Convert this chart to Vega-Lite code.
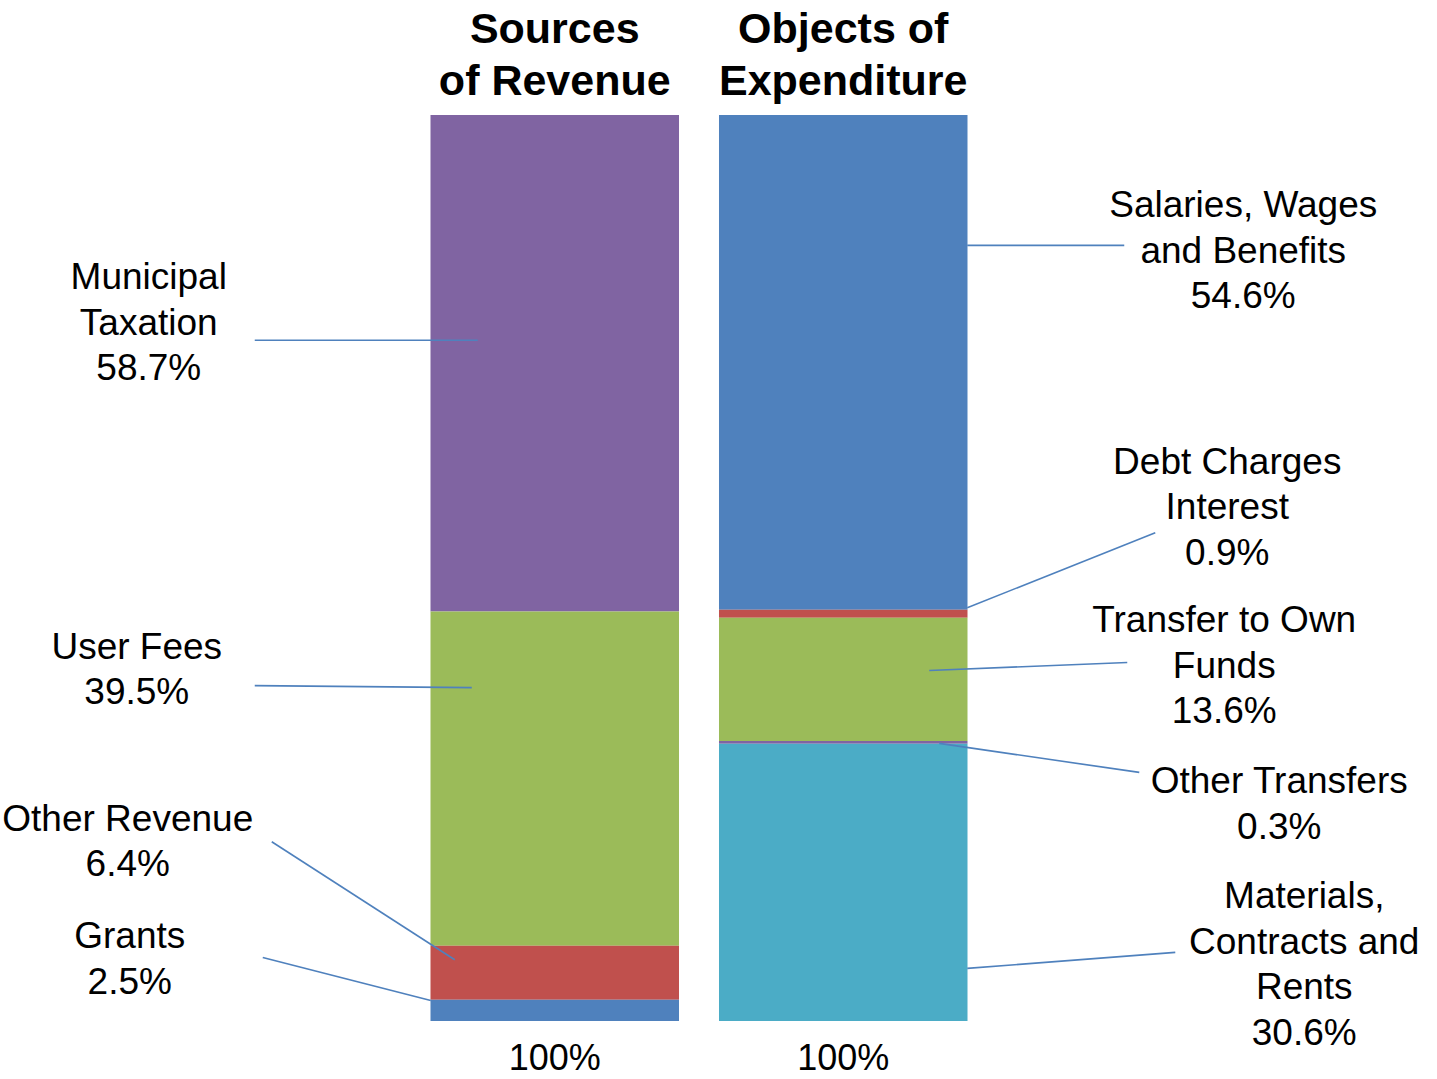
{
  "$schema": "https://vega.github.io/schema/vega-lite/v6.json",
  "width": 1114,
  "height": 906,
  "autosize": {"type": "none"},
  "padding": {"top": 115, "bottom": 58, "left": 142, "right": 181},
  "background": "white",
  "config": {
    "view": {"stroke": null},
    "font": "Liberation Sans",
    "text": {"font": "Liberation Sans", "fontSize": 37, "lineHeight": 45.5, "lineBreak": "\n", "align": "center", "baseline": "middle", "color": "black"},
    "rule": {"color": "#4F81BD", "strokeWidth": 1.6},
    "axis": {"grid": false}
  },
  "data": {
    "values": [
      {"panel": "Sources of Revenue", "item": "Municipal Taxation", "label": "Municipal\nTaxation", "value": 58.7, "order": 4},
      {"panel": "Sources of Revenue", "item": "User Fees", "label": "User Fees", "value": 39.5, "order": 3},
      {"panel": "Sources of Revenue", "item": "Other Revenue", "label": "Other Revenue", "value": 6.4, "order": 2},
      {"panel": "Sources of Revenue", "item": "Grants", "label": "Grants", "value": 2.5, "order": 1},
      {"panel": "Objects of Expenditure", "item": "Salaries, Wages and Benefits", "label": "Salaries, Wages\nand Benefits", "value": 54.6, "order": 5},
      {"panel": "Objects of Expenditure", "item": "Debt Charges Interest", "label": "Debt Charges\nInterest", "value": 0.9, "order": 4},
      {"panel": "Objects of Expenditure", "item": "Transfer to Own Funds", "label": "Transfer to Own\nFunds", "value": 13.6, "order": 3},
      {"panel": "Objects of Expenditure", "item": "Other Transfers", "label": "Other Transfers", "value": 0.3, "order": 2},
      {"panel": "Objects of Expenditure", "item": "Materials, Contracts and Rents", "label": "Materials,\nContracts and\nRents", "value": 30.6, "order": 1}
    ]
  },
  "transform": [
    {"stack": "value", "groupby": ["panel"], "sort": [{"field": "order", "order": "ascending"}], "offset": "normalize", "as": ["y0", "y1"]},
    {"calculate": "(datum.y0 + datum.y1) / 2", "as": "mid"},
    {"calculate": "datum.label + '\\n' + format(datum.value, '.1f') + '%'", "as": "text"}
  ],
  "resolve": {"axis": {"x": "independent"}},
  "layer": [
    {
      "mark": {"type": "bar"},
      "encoding": {
        "x": {
          "field": "panel", "type": "nominal",
          "scale": {"domain": ["Sources of Revenue", "Objects of Expenditure"], "paddingInner": 0.1386, "paddingOuter": 1},
          "axis": {"orient": "bottom", "title": null, "labelExpr": "'100%'", "labelAngle": 0, "labelFontSize": 36, "labelColor": "black", "labelFont": "Liberation Sans", "ticks": false, "domain": false, "labelPadding": 20, "labelLimit": 0}
        },
        "y": {"field": "y0", "type": "quantitative", "scale": {"domain": [0, 1], "nice": false}, "axis": null},
        "y2": {"field": "y1"},
        "color": {
          "field": "item", "type": "nominal", "legend": null,
          "scale": {
            "domain": ["Municipal Taxation", "User Fees", "Other Revenue", "Grants", "Salaries, Wages and Benefits", "Debt Charges Interest", "Transfer to Own Funds", "Other Transfers", "Materials, Contracts and Rents"],
            "range": ["#8064A2", "#9BBB59", "#C0504D", "#4F81BD", "#4F81BD", "#C0504D", "#9BBB59", "#8064A2", "#4BACC6"]
          }
        }
      }
    },
    {
      "transform": [{"filter": "datum.item == 'Municipal Taxation'"}],
      "mark": {"type": "text", "dx": -406, "dy": -85},
      "encoding": {
        "x": {"field": "panel", "type": "nominal",
          "axis": {"orient": "top", "title": null, "labelExpr": "datum.value == 'Sources of Revenue' ? ['Sources', 'of Revenue'] : ['Objects of', 'Expenditure']", "labelAngle": 0, "labelFontSize": 43, "labelFontWeight": "bold", "labelLineHeight": 52, "labelColor": "black", "labelFont": "Liberation Sans", "ticks": false, "domain": false, "labelPadding": 64, "labelLimit": 0}},
        "y": {"field": "mid", "type": "quantitative", "axis": null},
        "text": {"field": "text"}
      }
    },
    {
      "transform": [{"filter": "datum.item == 'User Fees'"}],
      "mark": {"type": "text", "dx": -418, "dy": -131},
      "encoding": {"x": {"field": "panel", "type": "nominal", "axis": null}, "y": {"field": "mid", "type": "quantitative", "axis": null}, "text": {"field": "text"}}
    },
    {
      "transform": [{"filter": "datum.item == 'Other Revenue'"}],
      "mark": {"type": "text", "dx": -427, "dy": -153},
      "encoding": {"x": {"field": "panel", "type": "nominal", "axis": null}, "y": {"field": "mid", "type": "quantitative", "axis": null}, "text": {"field": "text"}}
    },
    {
      "transform": [{"filter": "datum.item == 'Grants'"}],
      "mark": {"type": "text", "dx": -425, "dy": -73},
      "encoding": {"x": {"field": "panel", "type": "nominal", "axis": null}, "y": {"field": "mid", "type": "quantitative", "axis": null}, "text": {"field": "text"}}
    },
    {
      "transform": [{"filter": "datum.item == 'Salaries, Wages and Benefits'"}],
      "mark": {"type": "text", "dx": 400, "dy": -156},
      "encoding": {"x": {"field": "panel", "type": "nominal", "axis": null}, "y": {"field": "mid", "type": "quantitative", "axis": null}, "text": {"field": "text"}}
    },
    {
      "transform": [{"filter": "datum.item == 'Debt Charges Interest'"}],
      "mark": {"type": "text", "dx": 384, "dy": -151},
      "encoding": {"x": {"field": "panel", "type": "nominal", "axis": null}, "y": {"field": "mid", "type": "quantitative", "axis": null}, "text": {"field": "text"}}
    },
    {
      "transform": [{"filter": "datum.item == 'Transfer to Own Funds'"}],
      "mark": {"type": "text", "dx": 381, "dy": -58},
      "encoding": {"x": {"field": "panel", "type": "nominal", "axis": null}, "y": {"field": "mid", "type": "quantitative", "axis": null}, "text": {"field": "text"}}
    },
    {
      "transform": [{"filter": "datum.item == 'Other Transfers'"}],
      "mark": {"type": "text", "dx": 436, "dy": 40},
      "encoding": {"x": {"field": "panel", "type": "nominal", "axis": null}, "y": {"field": "mid", "type": "quantitative", "axis": null}, "text": {"field": "text"}}
    },
    {
      "transform": [{"filter": "datum.item == 'Materials, Contracts and Rents'"}],
      "mark": {"type": "text", "dx": 461, "dy": 15},
      "encoding": {"x": {"field": "panel", "type": "nominal", "axis": null}, "y": {"field": "mid", "type": "quantitative", "axis": null}, "text": {"field": "text"}}
    },
    {
      "transform": [{"filter": "datum.item == 'Municipal Taxation'"}],
      "mark": {"type": "rule", "xOffset": -300, "x2Offset": -77, "yOffset": -23, "y2Offset": -23},
      "encoding": {"x": {"field": "panel", "type": "nominal", "axis": null}, "x2": {"field": "panel"}, "y": {"field": "mid", "type": "quantitative", "axis": null}, "y2": {"field": "mid"}}
    },
    {
      "transform": [{"filter": "datum.item == 'User Fees'"}],
      "mark": {"type": "rule", "xOffset": -300, "x2Offset": -83, "yOffset": -93, "y2Offset": -91},
      "encoding": {"x": {"field": "panel", "type": "nominal", "axis": null}, "x2": {"field": "panel"}, "y": {"field": "mid", "type": "quantitative", "axis": null}, "y2": {"field": "mid"}}
    },
    {
      "transform": [{"filter": "datum.item == 'Other Revenue'"}],
      "mark": {"type": "rule", "xOffset": -283, "x2Offset": -100, "yOffset": -131, "y2Offset": -13},
      "encoding": {"x": {"field": "panel", "type": "nominal", "axis": null}, "x2": {"field": "panel"}, "y": {"field": "mid", "type": "quantitative", "axis": null}, "y2": {"field": "mid"}}
    },
    {
      "transform": [{"filter": "datum.item == 'Grants'"}],
      "mark": {"type": "rule", "xOffset": -292, "x2Offset": -124, "yOffset": -53, "y2Offset": -10},
      "encoding": {"x": {"field": "panel", "type": "nominal", "axis": null}, "x2": {"field": "panel"}, "y": {"field": "mid", "type": "quantitative", "axis": null}, "y2": {"field": "mid"}}
    },
    {
      "transform": [{"filter": "datum.item == 'Salaries, Wages and Benefits'"}],
      "mark": {"type": "rule", "xOffset": 124, "x2Offset": 281, "yOffset": -117, "y2Offset": -117},
      "encoding": {"x": {"field": "panel", "type": "nominal", "axis": null}, "x2": {"field": "panel"}, "y": {"field": "mid", "type": "quantitative", "axis": null}, "y2": {"field": "mid"}}
    },
    {
      "transform": [{"filter": "datum.item == 'Debt Charges Interest'"}],
      "mark": {"type": "rule", "xOffset": 124, "x2Offset": 312, "yOffset": -6, "y2Offset": -81},
      "encoding": {"x": {"field": "panel", "type": "nominal", "axis": null}, "x2": {"field": "panel"}, "y": {"field": "mid", "type": "quantitative", "axis": null}, "y2": {"field": "mid"}}
    },
    {
      "transform": [{"filter": "datum.item == 'Transfer to Own Funds'"}],
      "mark": {"type": "rule", "xOffset": 86, "x2Offset": 284, "yOffset": -9, "y2Offset": -17},
      "encoding": {"x": {"field": "panel", "type": "nominal", "axis": null}, "x2": {"field": "panel"}, "y": {"field": "mid", "type": "quantitative", "axis": null}, "y2": {"field": "mid"}}
    },
    {
      "transform": [{"filter": "datum.item == 'Other Transfers'"}],
      "mark": {"type": "rule", "xOffset": 96, "x2Offset": 296, "yOffset": 1, "y2Offset": 30},
      "encoding": {"x": {"field": "panel", "type": "nominal", "axis": null}, "x2": {"field": "panel"}, "y": {"field": "mid", "type": "quantitative", "axis": null}, "y2": {"field": "mid"}}
    },
    {
      "transform": [{"filter": "datum.item == 'Materials, Contracts and Rents'"}],
      "mark": {"type": "rule", "xOffset": 124, "x2Offset": 332, "yOffset": 86, "y2Offset": 70},
      "encoding": {"x": {"field": "panel", "type": "nominal", "axis": null}, "x2": {"field": "panel"}, "y": {"field": "mid", "type": "quantitative", "axis": null}, "y2": {"field": "mid"}}
    }
  ]
}
